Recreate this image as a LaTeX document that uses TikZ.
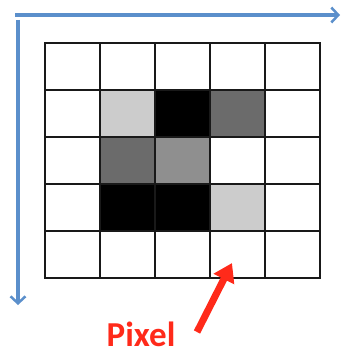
\documentclass[tikz,border=0pt]{standalone}
\usepackage{fontspec}
\newfontfamily\labelfont{Carlito}
\usetikzlibrary{arrows.meta}
\definecolor{axisblue}{HTML}{5B8FCB}
\definecolor{pixred}{HTML}{FF2A1A}
\definecolor{lightpix}{HTML}{CCCCCC}
\definecolor{midpix}{HTML}{8F8F8F}
\definecolor{darkpix}{HTML}{6B6B6B}
\tikzset{cell/.style={draw=black!90,line width=1.2pt,minimum width=55pt,minimum height=47pt,inner sep=0pt,outer sep=0pt}}
\tikzset{axis/.style={axisblue,line width=3.5pt,-{Straight Barb[length=7pt,width=15pt,line width=2.5pt]}}}
\begin{document}
\begin{tikzpicture}[x=1pt,y=-1pt]
        \useasboundingbox (0,0) rectangle (341,353);
        % grey levels of the image, row by row
        \foreach \r/\row in {1/{white,white,white,white,white},
                             2/{white,lightpix,black,darkpix,white},
                             3/{white,darkpix,midpix,white,white},
                             4/{white,black,black,lightpix,white},
                             5/{white,white,white,white,white}}
          \foreach \shade [count=\c] in \row
            \node[cell,fill=\shade] (c-\r-\c) at (17.5+55*\c,19.5+47*\r) {};
        % axes
        \coordinate (xstart) at (15,15);
        \coordinate (xend) at (340,15);
        \coordinate (ystart) at (18,20);
        \coordinate (yend) at (18,305);
        \draw[axis] (xstart) -- (xend);
        \draw[axis] (ystart) -- (yend);
        % label
        \node[pixred,font=\labelfont\bfseries\fontsize{35}{35}\selectfont,anchor=base,inner sep=0pt] (pixel) at (141,346) {Pixel};
        \coordinate (tail) at (197,332);
        \coordinate (tip) at (232,263);
        \draw[pixred,line width=7pt,-{Triangle[length=18pt,width=22pt]}] (tail) -- (tip);
      \end{tikzpicture}
\end{document}
